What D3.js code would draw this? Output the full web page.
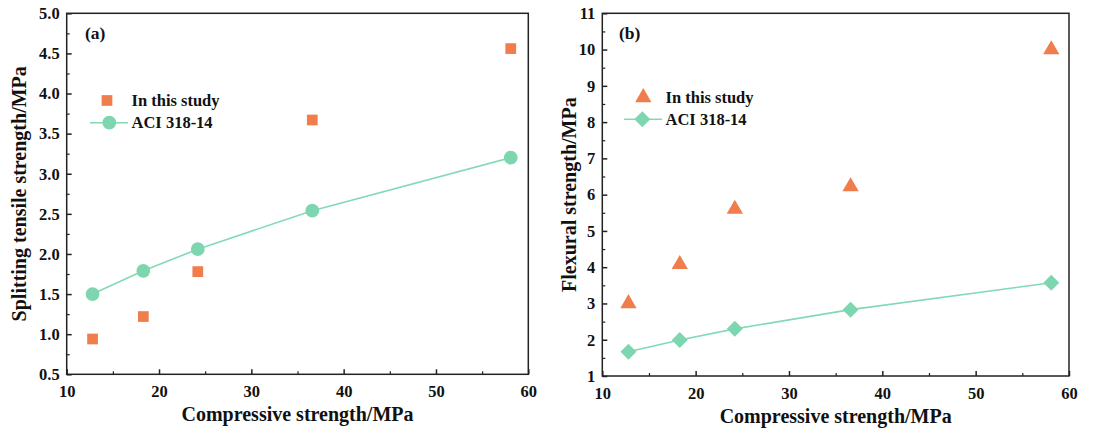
<!DOCTYPE html>
<html><head><meta charset="utf-8">
<script src="https://cdn.jsdelivr.net/npm/d3@7"></script>
<style>body{margin:0;background:#fff}svg{display:block}text{font-family:"Liberation Serif","Times New Roman",serif;font-weight:bold}</style>
</head><body>
<script>
const compressive = [12.8, 18.3, 24.2, 36.6, 58.1];
const splitStudy = [0.94, 1.22, 1.78, 3.67, 4.56];
const splitACI = [1.50, 1.79, 2.06, 2.54, 3.20];
const flexStudy = [3.0, 4.08, 5.60, 6.22, 10.0];
const flexACI = [1.67, 1.99, 2.30, 2.83, 3.57];
const xTicks = [10, 20, 30, 40, 50, 60];
const splitTicks = [0.5, 1.0, 1.5, 2.0, 2.5, 3.0, 3.5, 4.0, 4.5, 5.0];
const flexTicks = [1, 2, 3, 4, 5, 6, 7, 8, 9, 10, 11];
const seriesNames = ["In this study", "ACI 318-14"];

const ORANGE = "#F07D4C", GREEN = "#7ED6B1", LINEG = "#82DAB5";
const svg = d3.select("body").append("svg").attr("width", 1095).attr("height", 430);

function panel(o) {
  const g = svg.append("g");
  const x = d3.scaleLinear().domain([10, 60]).range([o.x0, o.x1]);
  const y = d3.scaleLinear().domain(o.ydom).range([o.y1, o.y0]);
  g.append("rect").attr("x", o.x0).attr("y", o.y0).attr("width", o.x1 - o.x0).attr("height", o.y1 - o.y0)
    .attr("fill", "none").attr("stroke", "#222").attr("stroke-width", 1.5);
  const xa = g.append("g").attr("transform", `translate(0,${o.y1})`)
    .call(d3.axisBottom(x).tickValues(xTicks).tickSize(-5).tickPadding(11).tickFormat(d3.format("d")));
  xa.select(".domain").remove();
  xa.selectAll("line").attr("stroke", "#222").attr("stroke-width", 1.5);
  xa.selectAll("text").attr("font-size", 16.5).attr("fill", "#111");
  const xm = g.append("g").attr("transform", `translate(0,${o.y1})`)
    .call(d3.axisBottom(x).tickValues([15, 25, 35, 45, 55]).tickSize(-3).tickFormat(""));
  xm.select(".domain").remove();
  xm.selectAll("line").attr("stroke", "#222").attr("stroke-width", 1.2);
  const ya = g.append("g").attr("transform", `translate(${o.x0},0)`)
    .call(d3.axisLeft(y).tickValues(o.yticks).tickSize(-5).tickPadding(7).tickFormat(o.yfmt));
  ya.select(".domain").remove();
  ya.selectAll("line").attr("stroke", "#222").attr("stroke-width", 1.5);
  ya.selectAll("text").attr("font-size", 16.5).attr("fill", "#111");
  const ym = g.append("g").attr("transform", `translate(${o.x0},0)`)
    .call(d3.axisLeft(y).tickValues(o.yminor).tickSize(-3).tickFormat(""));
  ym.select(".domain").remove();
  ym.selectAll("line").attr("stroke", "#222").attr("stroke-width", 1.2);
  g.append("text").attr("x", (o.x0 + o.x1) / 2).attr("y", o.y1 + 47).attr("text-anchor", "middle")
    .attr("font-size", 20).attr("fill", "#111").text("Compressive strength/MPa");
  g.append("text").attr("transform", `translate(${o.ytx},${(o.y0 + o.y1) / 2}) rotate(-90)`)
    .attr("text-anchor", "middle").attr("font-size", 20).attr("fill", "#111").text(o.ytitle);
  g.append("text").attr("x", o.labx).attr("y", 39).attr("font-size", 17.5).attr("fill", "#111").text(o.label);
  const line = d3.line().x((d, i) => x(compressive[i])).y(d => y(d));
  g.append("path").datum(o.aci).attr("d", line).attr("fill", "none").attr("stroke", LINEG).attr("stroke-width", 1.6);
  const pts = compressive.map((c, i) => ({ c, s: o.study[i], a: o.aci[i] }));
  g.selectAll(".aci").data(pts).join("path").attr("class", "aci")
    .attr("transform", d => `translate(${x(d.c)},${y(d.a)})`)
    .attr("d", o.aciSym).attr("fill", GREEN);
  g.selectAll(".st").data(pts).join("path").attr("class", "st")
    .attr("transform", d => `translate(${x(d.c)},${y(d.s)})`)
    .attr("d", o.studySym).attr("fill", ORANGE);
  const L = o.leg;
  g.append("path").attr("transform", `translate(${L.sx},${L.sy})`).attr("d", o.studySym).attr("fill", ORANGE);
  g.append("text").attr("x", L.tx).attr("y", L.sy + 5.5).attr("font-size", 16.5).attr("fill", "#111").text(seriesNames[0]);
  g.append("line").attr("x1", L.lx0).attr("x2", L.lx1).attr("y1", L.ly).attr("y2", L.ly).attr("stroke", LINEG).attr("stroke-width", 1.6);
  g.append("path").attr("transform", `translate(${L.mx},${L.ly})`).attr("d", o.aciSym).attr("fill", GREEN);
  g.append("text").attr("x", L.tx).attr("y", L.ly + 5.5).attr("font-size", 16.5).attr("fill", "#111").text(seriesNames[1]);
}

const sq = d3.symbol(d3.symbolSquare, 115)();
const circ = d3.symbol(d3.symbolCircle, 150)();
const tri = d3.symbol(d3.symbolTriangle, 115)();
const dia = "M0,-8L8,0L0,8L-8,0Z";

panel({
  x0: 66.7, x1: 528.3, y0: 13.3, y1: 374.3, ydom: [0.5, 5.0],
  yticks: splitTicks, yminor: d3.range(0.75, 5.0, 0.5), yfmt: d3.format(".1f"),
  ytitle: "Splitting tensile strength/MPa", ytx: 26, label: "(a)", labx: 85,
  study: splitStudy, aci: splitACI, studySym: sq, aciSym: circ,
  leg: { sx: 107, sy: 100.5, tx: 131.5, lx0: 90, lx1: 128, ly: 122.7, mx: 109.3 }
});
panel({
  x0: 602.3, x1: 1069, y0: 13.3, y1: 376, ydom: [1, 11],
  yticks: flexTicks, yminor: d3.range(1.5, 11, 1), yfmt: d3.format("d"),
  ytitle: "Flexural strength/MPa", ytx: 576, label: "(b)", labx: 619,
  study: flexStudy, aci: flexACI, studySym: tri, aciSym: dia,
  leg: { sx: 643.3, sy: 97.5, tx: 665.5, lx0: 624, lx1: 662, ly: 119.3, mx: 642.3 }
});
</script>
</body></html>
